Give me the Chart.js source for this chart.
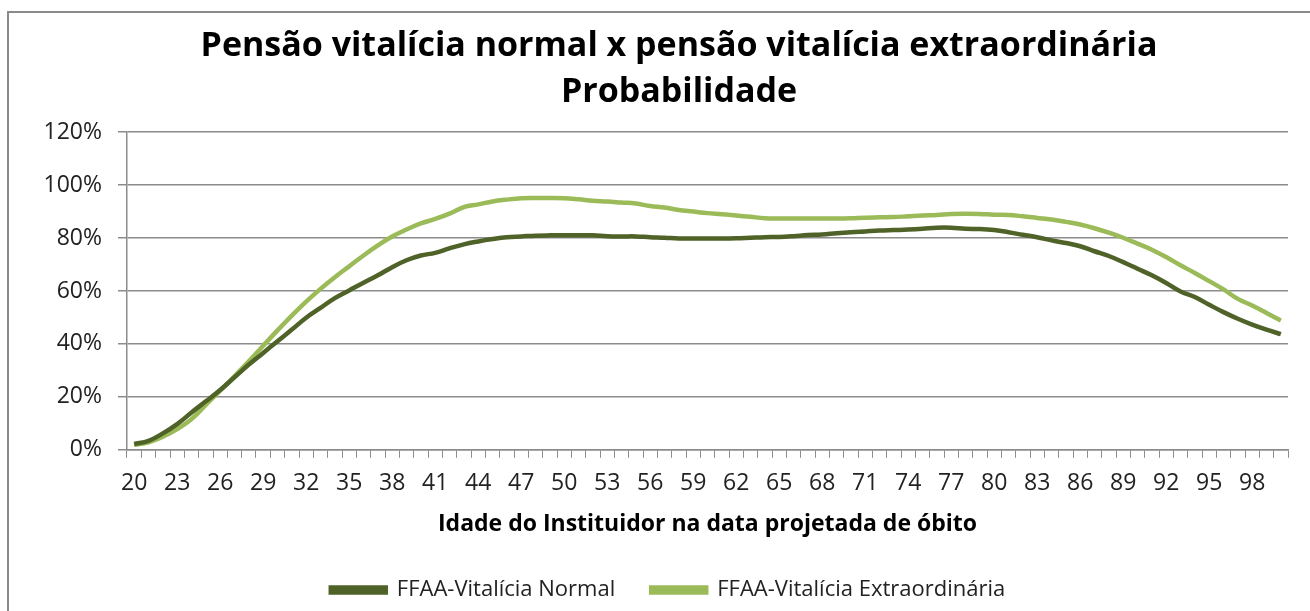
<!DOCTYPE html>
<html>
<head>
<meta charset="utf-8">
<script src="https://cdn.jsdelivr.net/npm/chart.js@4"></script>
<style>
  html, body { margin: 0; padding: 0; background: #fff; overflow: hidden; }
  #wrap { position: relative; width: 1310px; height: 611px; }
  #frame { position: absolute; left: 7px; top: 11px; width: 1400px; height: 700px; border: 2px solid #8a8a8a; pointer-events: none; }
</style>
</head>
<body>
<div id="wrap">
  <canvas id="grafico" width="1310" height="611"></canvas>
  <div id="frame"></div>
</div>
<script>
// idades (eixo x)
const idades = [20,21,22,23,24,25,26,27,28,29,30,31,32,33,34,35,36,37,38,39,40,
  41,42,43,44,45,46,47,48,49,50,51,52,53,54,55,56,57,58,59,60,
  61,62,63,64,65,66,67,68,69,70,71,72,73,74,75,76,77,78,79,80,
  81,82,83,84,85,86,87,88,89,90,91,92,93,94,95,96,97,98,99,100];

// probabilidades (%)
const vitaliciaNormal = [2.2,3.4,6.2,9.7,14.1,18.3,22.6,27.4,32.2,36.6,41.0,
  45.4,49.9,53.6,57.3,60.2,63.1,65.9,69.0,71.6,73.4,
  74.4,76.1,77.6,78.7,79.6,80.3,80.6,80.9,81.0,81.0,
  81.0,81.0,80.7,80.6,80.6,80.3,80.1,79.8,79.8,79.8,
  79.8,79.9,80.1,80.3,80.4,80.7,81.1,81.3,81.8,82.2,
  82.5,82.8,83.0,83.2,83.5,83.9,83.9,83.5,83.4,83.0,
  82.2,81.2,80.3,79.1,78.1,76.9,75.0,73.2,70.9,68.4,
  65.9,63.0,59.8,57.7,54.8,52.0,49.5,47.3,45.4,43.7];

const vitaliciaExtra = [1.9,2.8,4.9,7.8,11.6,17.0,22.3,27.8,33.4,39.3,45.1,
  50.7,56.0,60.8,65.2,69.3,73.4,77.2,80.6,83.2,85.5,
  87.2,89.2,91.7,92.7,93.8,94.5,95.0,95.1,95.1,95.0,
  94.6,94.1,93.8,93.4,93.0,92.1,91.5,90.6,90.0,89.4,
  89.0,88.5,88.0,87.5,87.4,87.4,87.4,87.4,87.4,87.5,
  87.7,87.8,87.9,88.2,88.5,88.7,89.1,89.2,89.1,88.8,
  88.7,88.2,87.6,87.0,86.1,85.1,83.7,82.0,80.1,77.9,
  75.6,72.8,69.7,66.8,63.7,60.6,57.0,54.5,51.7,48.8];

const corNormal = '#4f6228';
const corExtra = '#9bbb59';
const cinza = '#8c8c8c';
const fonte = 'Open Sans';

// desloca titulo e legenda um pouco para a direita, como no Excel
const deslocar = {
    id: 'deslocar',
    afterLayout(chart) {
        if (chart.titleBlock) { chart.titleBlock.left += 35; chart.titleBlock.right += 35; }
        if (chart.legend) { chart.legend.left += 24; chart.legend.right += 24; }
    }
};

const ctx = document.getElementById('grafico').getContext('2d');
new Chart(ctx, {
    type: 'line',
    data: {
        labels: idades,
        datasets: [{
            label: 'FFAA-Vitalícia Normal',
            data: vitaliciaNormal,
            borderColor: corNormal,
            backgroundColor: corNormal,
            borderWidth: 4.5,
            pointRadius: 0,
            tension: 0.4
        }, {
            label: 'FFAA-Vitalícia Extraordinária',
            data: vitaliciaExtra,
            borderColor: corExtra,
            backgroundColor: corExtra,
            borderWidth: 4.5,
            pointRadius: 0,
            tension: 0.4
        }]
    },
    options: {
        responsive: false,
        animation: false,
        layout: { padding: { left: 0, right: 22, top: 0, bottom: 0 } },
        plugins: {
            tooltip: { enabled: false },
            title: {
                display: true,
                text: ['Pensão vitalícia normal x pensão vitalícia extraordinária', 'Probabilidade'],
                color: '#000',
                font: { family: fonte, size: 34, weight: 'bold', lineHeight: 1.34 },
                padding: { top: 24, bottom: 17 }
            },
            legend: {
                position: 'bottom',
                labels: {
                    color: '#222',
                    font: { family: fonte, size: 22 },
                    boxWidth: 55,
                    boxHeight: 5,
                    padding: 36
                }
            }
        },
        scales: {
            x: {
                offset: true,
                grid: { display: true, drawOnChartArea: false, offset: true, tickLength: 8, color: cinza },
                border: { color: cinza, width: 1.5 },
                ticks: {
                    autoSkip: false,
                    maxRotation: 0,
                    color: '#222',
                    padding: 12,
                    font: { family: fonte, size: 23 },
                    callback: (v, i) => (i % 3 === 0 ? idades[i] : '')
                },
                title: {
                    display: true,
                    text: 'Idade do Instituidor na data projetada de óbito',
                    color: '#000',
                    font: { family: fonte, size: 23, weight: 'bold' },
                    padding: { top: 1, bottom: 5 }
                }
            },
            y: {
                min: 0,
                max: 120,
                afterFit: s => { s.width = 127; },
                grid: { color: cinza, lineWidth: 1.5, tickLength: 9 },
                border: { color: cinza, width: 1.5 },
                ticks: {
                    stepSize: 20,
                    color: '#222',
                    padding: 16,
                    font: { family: fonte, size: 23 },
                    callback: v => v + '%'
                }
            }
        }
    },
    plugins: [deslocar]
});
</script>
</body>
</html>
